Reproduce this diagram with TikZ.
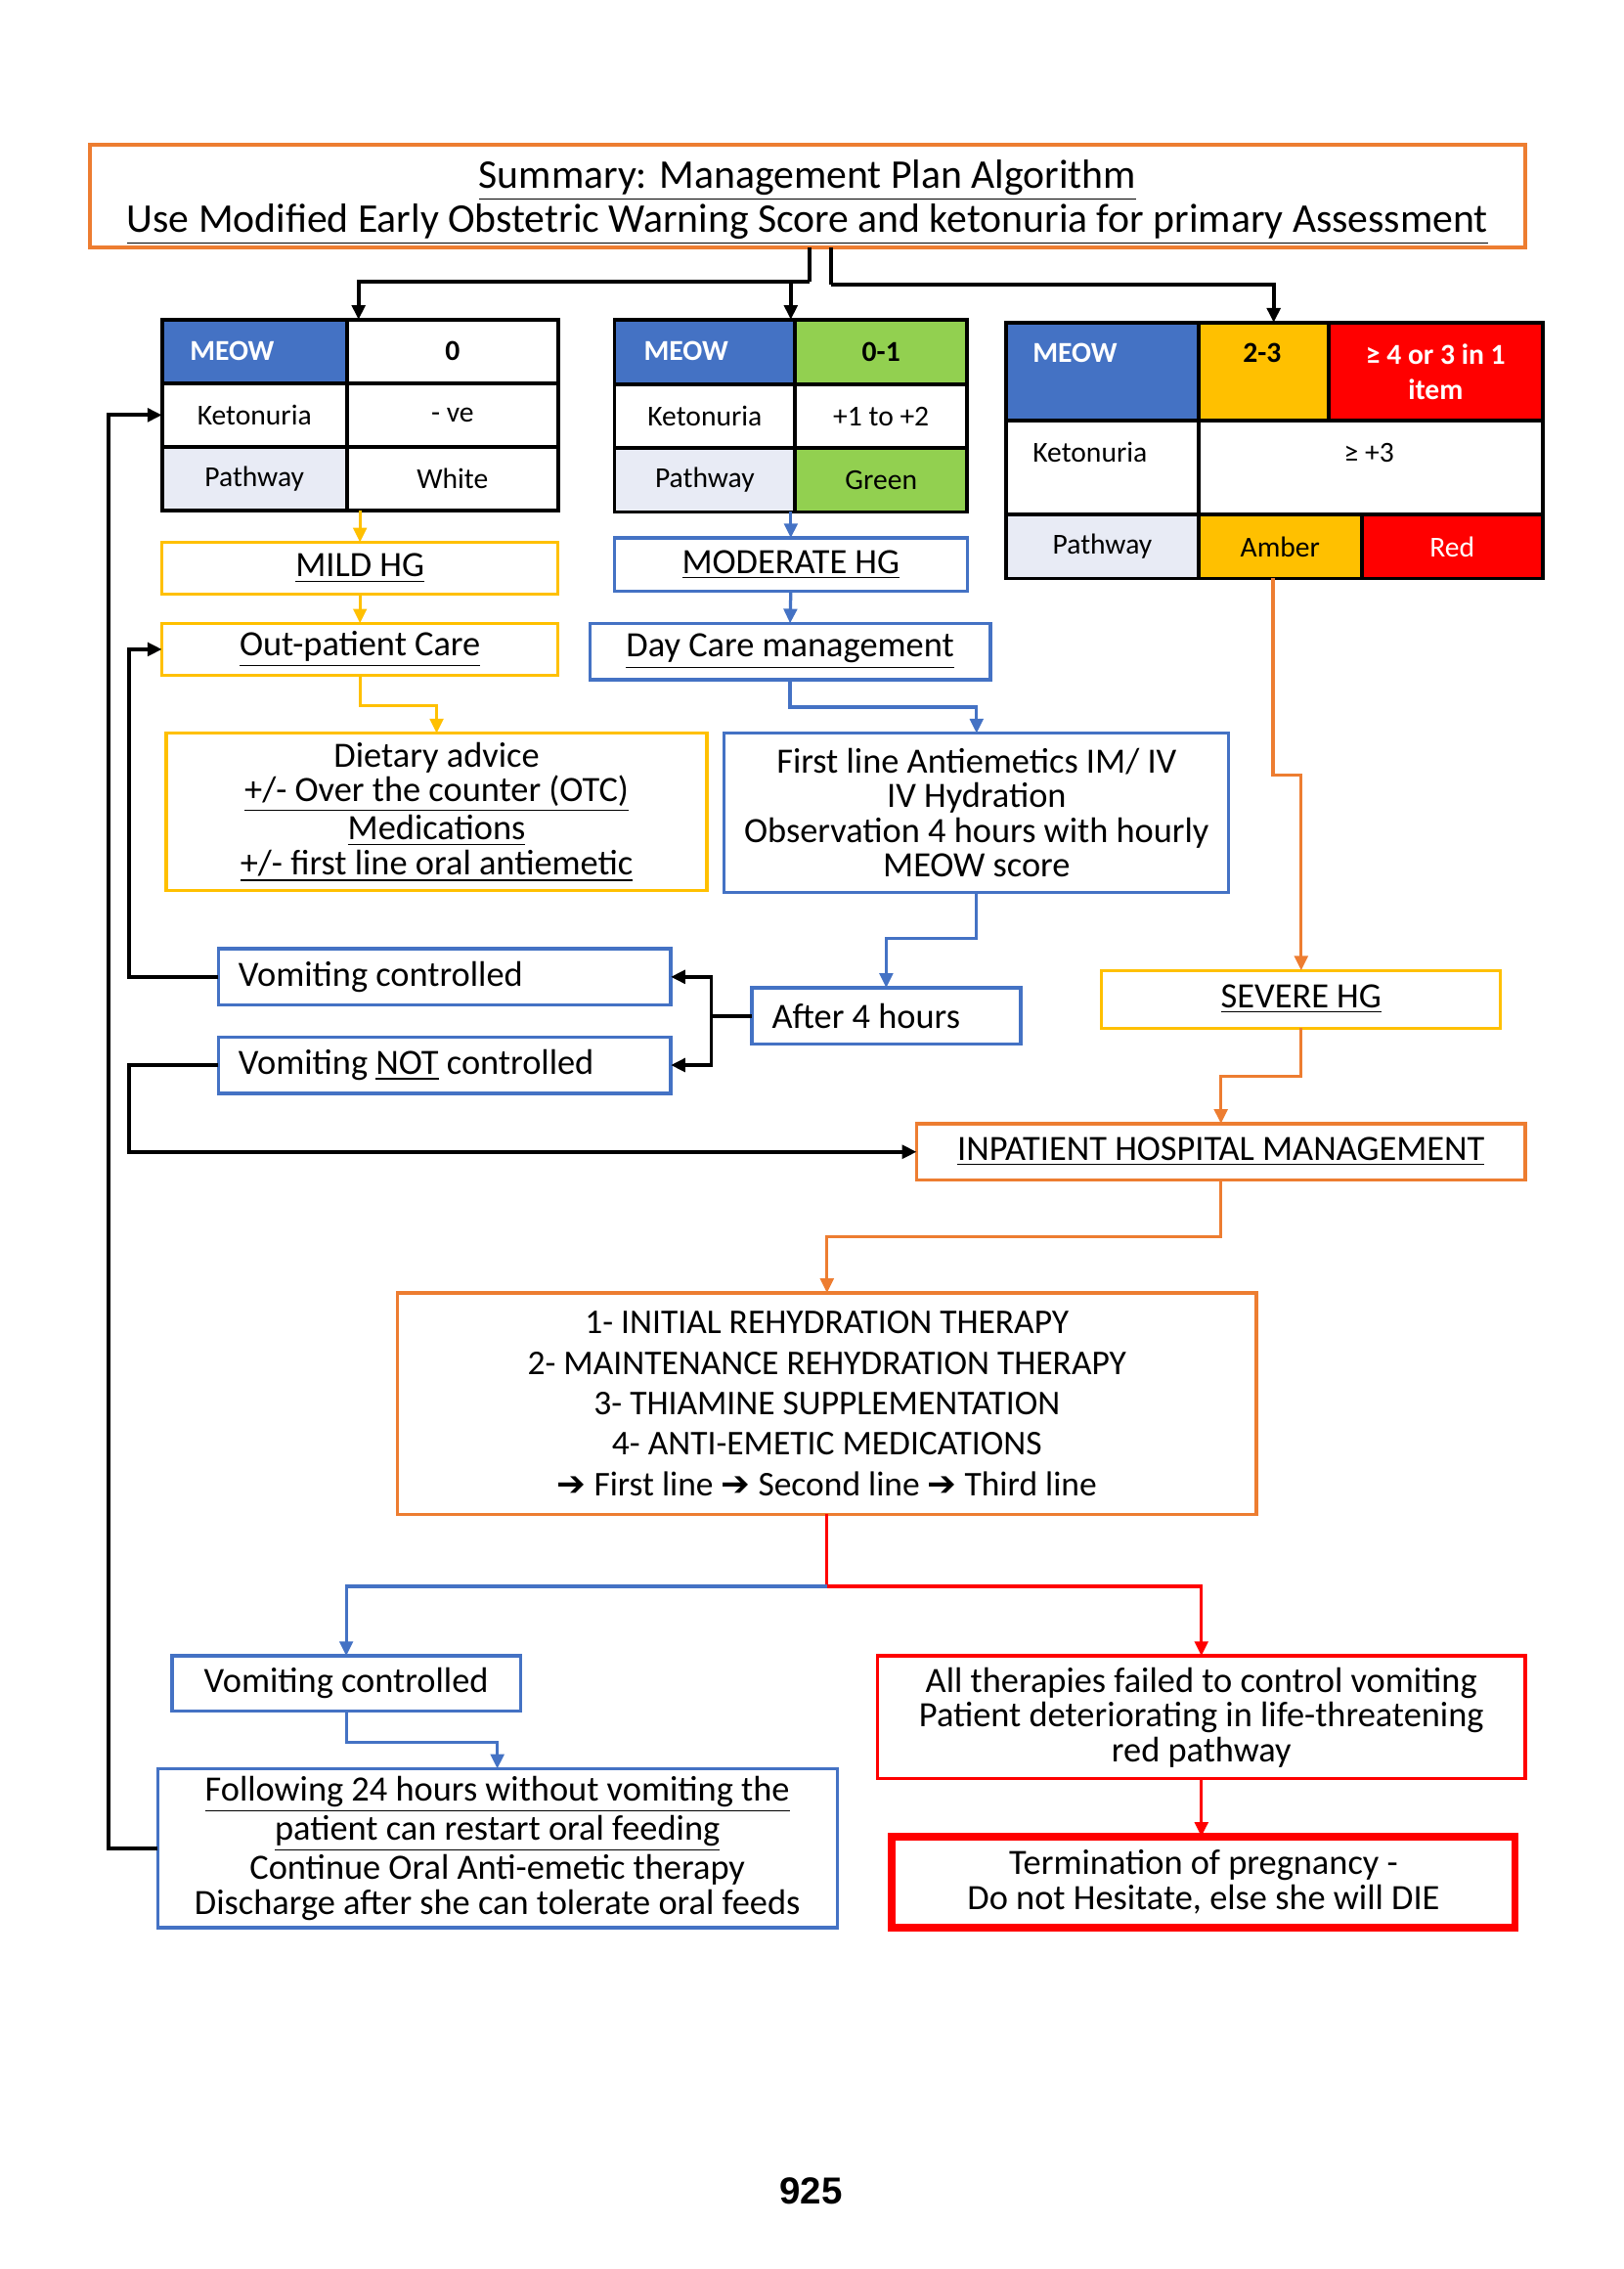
\documentclass[tikz,border=0pt]{standalone}
\usepackage{fontspec}
\setmainfont{Carlito}
\newfontfamily\dv{DejaVu Sans}
\newfontfamily\lsb{Liberation Sans}
\usetikzlibrary{arrows.meta,calc}
\definecolor{cOr}{HTML}{ED7D31}
\definecolor{cYe}{HTML}{FFC000}
\definecolor{cBl}{HTML}{4472C4}
\definecolor{cRe}{HTML}{FF0000}
\definecolor{cGr}{HTML}{92D050}
\definecolor{cLg}{HTML}{E8EBF5}
\newcommand\bx[7]{\node[#6, minimum width={0.5pt*(#4-#2)}, minimum height={0.5pt*(#5-#3)}] (#1) at ({(#2+#4)/2},{(#3+#5)/2}) {#7};}
\tikzset{
  box/.style={draw, line width=1.1pt, inner sep=0pt, outer sep=0pt, align=center, font=\fontsize{12.3}{12}\selectfont, fill=white},
  cell/.style={draw=black, line width=1.3pt, inner sep=0pt, outer sep=0pt, align=center, font=\fontsize{10}{12}\selectfont},
  ctext/.style={inner sep=0pt, font=\fontsize{10}{12}\selectfont},
  tip/.style={-{Triangle[length=5pt,width=4.6pt]}},
  blk/.style={draw=black, line width=1.3pt},
  yl/.style={draw=cYe, line width=1.1pt, tip},
  bl/.style={draw=cBl, line width=1.1pt, tip},
  orl/.style={draw=cOr, line width=1.1pt, tip},
  rdl/.style={draw=cRe, line width=1.1pt, tip},
}
\begin{document}
\begin{tikzpicture}[x=0.5pt,y=-0.5pt]
\fill[white] (0,0) rectangle (1123,1569);
\useasboundingbox (0,0) rectangle (1123,1569);

% title
\bx{title}{62}{100}{1055}{171}{box, draw=cOr, line width=1.4pt, font=\fontsize{14.1}{13.5}\selectfont}{\rule{0pt}{14pt}\underline{Summary: Management Plan Algorithm}\\\underline{Use Modified Early Obstetric Warning Score and ketonuria for primary Assessment}}

% table 1
\bx{t1a}{112}{221}{240}{265}{cell, fill=cBl}{}
\bx{t1b}{240}{221}{386}{265}{cell, fill=white}{\textbf{0}}
\bx{t1c}{112}{265}{240}{309}{cell, fill=white}{Ketonuria}
\bx{t1d}{240}{265}{386}{309}{cell, fill=white}{- ve}
\bx{t1e}{112}{309}{240}{353}{cell, fill=cLg}{Pathway}
\bx{t1f}{240}{309}{386}{353}{cell, fill=white}{White}
\node[ctext, anchor=west, text=white] (t1m) at (131,243) {\textbf{MEOW}};

% table 2
\bx{t2a}{425}{221}{550}{266}{cell, fill=cBl}{}
\bx{t2b}{550}{221}{669}{266}{cell, fill=cGr}{\textbf{0-1}}
\bx{t2c}{425}{266}{550}{310}{cell, fill=white}{Ketonuria}
\bx{t2d}{550}{266}{669}{310}{cell, fill=white}{+1 to +2}
\bx{t2e}{425}{310}{550}{354}{cell, fill=cLg}{Pathway}
\bx{t2f}{550}{310}{669}{354}{cell, fill=cGr}{Green}
\node[ctext, anchor=west, text=white] (t2m) at (445,243) {\textbf{MEOW}};

% table 3
\bx{t3a}{696}{223}{829}{291}{cell, fill=cBl}{}
\bx{t3b}{829}{223}{919}{291}{cell, fill=cYe}{}
\bx{t3c}{919}{223}{1067}{291}{cell, fill=cRe, text=white, font=\fontsize{10}{12}\bfseries}{≥ 4 or 3 in 1\\item}
\bx{t3d}{696}{291}{829}{356}{cell, fill=white}{}
\bx{t3e}{829}{291}{1067}{356}{cell, fill=white}{}
\bx{t3f}{696}{356}{829}{400}{cell, fill=cLg}{Pathway}
\bx{t3g}{829}{356}{942}{400}{cell, fill=cYe}{Amber}
\bx{t3h}{942}{356}{1067}{400}{cell, fill=cRe, text=white}{Red}
\node[ctext, anchor=west, text=white] (t3m) at (714,244) {\textbf{MEOW}};
\node[ctext] (t3n) at (873,244) {\textbf{2-3}};
\node[ctext, anchor=west] (t3k) at (714,313) {Ketonuria};
\node[ctext] (t3v) at (947,313) {≥ +3};

% left column
\bx{mild}{112}{375}{386}{411}{box, draw=cYe}{\underline{MILD HG}}
\bx{opc}{112}{431}{386}{467}{box, draw=cYe}{\underline{Out-patient Care}}
\bx{diet}{115}{507}{489}{616}{box, draw=cYe}{Dietary advice\\\underline{+/- Over the counter (OTC)}\\\underline{Medications}\\\underline{+/- first line oral antiemetic}}

% middle column
\bx{mod}{425}{372}{669}{409}{box, draw=cBl}{\underline{MODERATE HG}}
\bx{dcm}{408}{431}{685}{470}{box, draw=cBl}{\underline{Day Care management}}
\bx{first}{501}{507}{850}{617}{box, draw=cBl}{First line Antiemetics IM/ IV\\IV Hydration\\Observation 4 hours with hourly\\MEOW score}
\bx{after}{520}{683}{706}{722}{box, draw=cBl, inner xsep=7pt}{\makebox[79pt][l]{After 4 hours}}
\bx{vc}{151}{656}{464}{695}{box, draw=cBl, inner xsep=7pt}{\makebox[142.5pt][l]{Vomiting controlled}}
\bx{vnc}{151}{717}{464}{756}{box, draw=cBl, inner xsep=7pt}{\makebox[142.5pt][l]{Vomiting \underline{NOT} controlled}}

% severe path
\bx{severe}{762}{671}{1038}{711}{box, draw=cYe}{\underline{SEVERE HG}}
\bx{inp}{634}{777}{1055}{816}{box, draw=cOr}{\underline{INPATIENT HOSPITAL MANAGEMENT}}
\bx{ther}{275}{894}{869}{1047}{box, draw=cOr, font=\fontsize{12}{14}\selectfont}{1- INITIAL REHYDRATION THERAPY\\2- MAINTENANCE REHYDRATION THERAPY\\3- THIAMINE SUPPLEMENTATION\\4- ANTI-EMETIC MEDICATIONS\\{\dv\bfseries ➔} First line {\dv\bfseries ➔} Second line {\dv\bfseries ➔} Third line}

% bottom
\bx{vc2}{119}{1145}{360}{1183}{box, draw=cBl}{Vomiting controlled}
\bx{follow}{109}{1223}{579}{1333}{box, draw=cBl}{\underline{Following 24 hours without vomiting the}\\\underline{patient can restart oral feeding}\\Continue Oral Anti-emetic therapy\\Discharge after she can tolerate oral feeds}
\bx{fail}{607}{1145}{1055}{1230}{box, draw=cRe}{All therapies failed to control vomiting\\Patient deteriorating in life-threatening\\red pathway}
\bx{term}{617}{1270}{1048}{1333}{box, draw=cRe, line width=2.6pt}{Termination of pregnancy -\\Do not Hesitate, else she will DIE}

\node[font=\lsb\bfseries\fontsize{13}{15}\selectfont] (page) at (561,1515) {925};

% connectors from title
\coordinate (s1) at (560,195);
\coordinate (s2) at (575,197);
\draw[blk] (title.south -| s1) -- (s1);
\draw[blk] (title.south -| s2) -- (s2);
\draw[blk, tip] (s1) -| ([xshift=4pt]t1b.north west);
\draw[blk, tip] (s1) -| ([xshift=-1.5pt]t2b.north west);
\draw[blk, tip] (s2) -| ([xshift=3.5pt]t3b.north);

% left
\draw[yl] (mild.north |- t1f.south) -- (mild.north);
\draw[yl] (mild.south) -- (opc.north);
\draw[yl] (opc.south) -- ++(0,21) -| (diet.north);
% middle
\draw[bl] (mod.north |- t2f.south) -- (mod.north);
\draw[bl] (mod.south) -- (dcm.north);
\draw[bl] (dcm.south) -- ++(0,19) -| (first.north);
\draw[bl] (first.south) -- ++(0,32) -| (after.north);
\draw[blk, tip] (after.west) -- ++(-28,0) |- (vc.east);
\draw[blk, tip] (after.west) -- ++(-28,0) |- (vnc.east);
\draw[blk, tip] (vc.west) -- ++(-62,0) |- (opc.west);
\draw[blk, tip] (vnc.west) -- ++(-62,0) |- (inp.west);
% severe
\draw[orl] ([xshift=-2.5pt]t3g.south) -- ++(0,136) -| (severe.north);
\draw[orl] (severe.south) -- ++(0,33) -| (inp.north);
\draw[orl] (inp.south) -- ++(0,39) -| (ther.north);
\coordinate (j) at ($(ther.south)+(0,50)$);
\draw[rdl] (ther.south) -- (j) -| (fail.north);
\draw[bl] (j) -| (vc2.north);
\draw[bl] (vc2.south) -- ++(0,22) -| (follow.north);
\draw[rdl] (fail.south) -- (fail.south |- term.north);
\draw[blk, tip] (follow.west) -- ++(-34,0) |- (t1c.west);
\end{tikzpicture}
\end{document}
